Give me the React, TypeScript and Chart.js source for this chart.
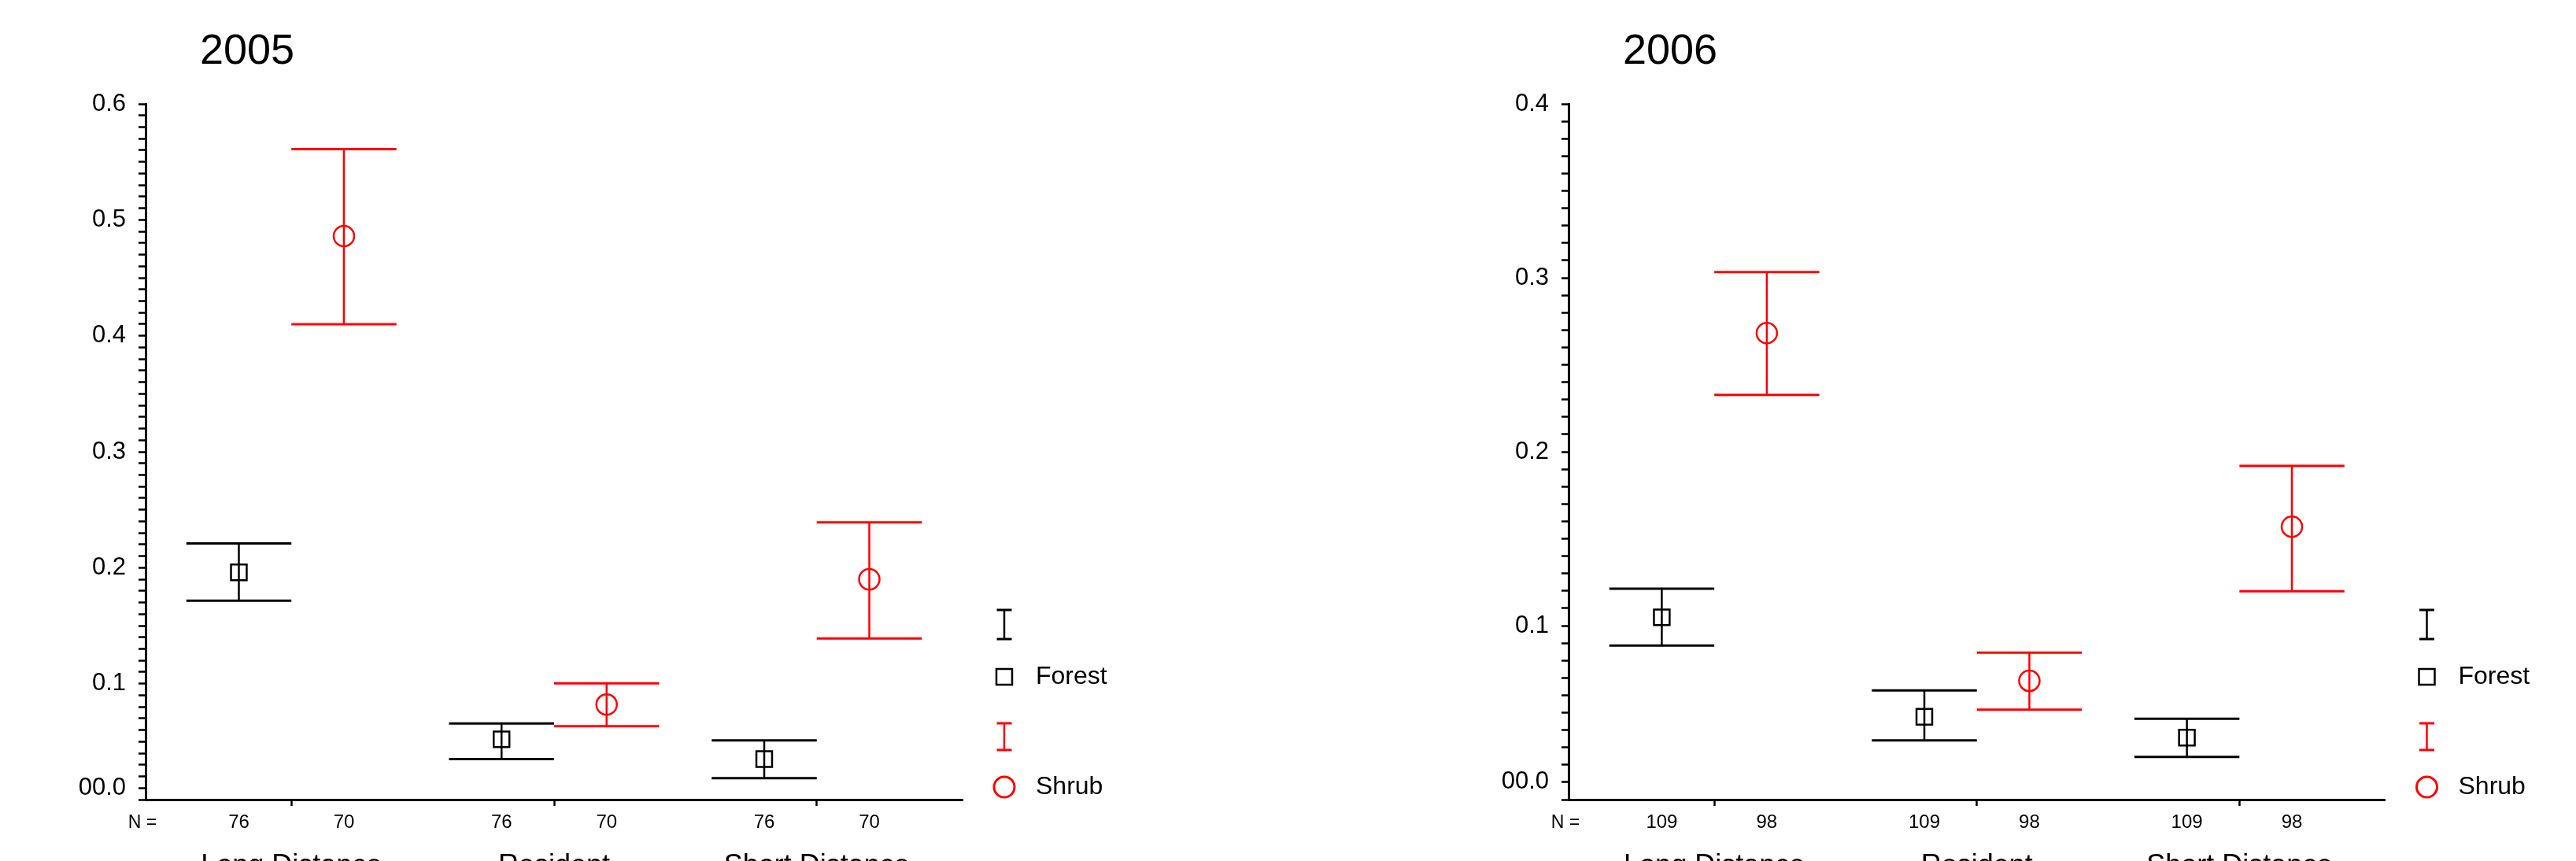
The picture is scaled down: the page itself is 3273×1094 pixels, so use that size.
import React, { useEffect, useRef } from 'react';
import { Chart, registerables } from 'chart.js';

Chart.register(...registerables);

// ---------- data ----------
const categories = ['Long Distance', 'Resident', 'Short Distance'];
const seriesNames = ['Forest', 'Shrub'];

const forestMean2005 = [0.196, 0.052, 0.035];
const forestLow2005 = [0.1715, 0.035, 0.0185];
const forestHigh2005 = [0.221, 0.0656, 0.051];
const shrubMean2005 = [0.486, 0.082, 0.19];
const shrubLow2005 = [0.41, 0.0633, 0.139];
const shrubHigh2005 = [0.561, 0.1003, 0.239];
const forestN2005 = ['76', '76', '76'];
const shrubN2005 = ['70', '70', '70'];
const yLabelValues2005 = [0.01, 0.1, 0.2, 0.3, 0.4, 0.5, 0.6];
const yLabels2005 = ['00.0', '0.1', '0.2', '0.3', '0.4', '0.5', '0.6'];

const forestMean2006 = [0.1048, 0.0476, 0.0356];
const forestLow2006 = [0.0886, 0.0341, 0.0246];
const forestHigh2006 = [0.1213, 0.0628, 0.0465];
const shrubMean2006 = [0.2682, 0.0683, 0.1569];
const shrubLow2006 = [0.2327, 0.0517, 0.1198];
const shrubHigh2006 = [0.3033, 0.0845, 0.1919];
const forestN2006 = ['109', '109', '109'];
const shrubN2006 = ['98', '98', '98'];
const yLabelValues2006 = [0.01, 0.1, 0.2, 0.3, 0.4];
const yLabels2006 = ['00.0', '0.1', '0.2', '0.3', '0.4'];

// ---------- style ----------
const FONT = "'Liberation Sans', Arial, Helvetica, sans-serif";
const BLACK = '#000000';
const RED = '#ff0000';
const GROUP_OFFSET = 0.2;
const CAP_HALF = 0.2;
const X_MIN = -0.555;
const X_MAX = 2.555;
const H = 1094;

type Panel = {
  title: string;
  yMax: number;
  fMean: number[]; fLow: number[]; fHigh: number[];
  sMean: number[]; sLow: number[]; sHigh: number[];
  fN: string[]; sN: string[];
  yLabelValues: number[]; yLabels: string[];
};

const panels: Panel[] = [
  {
    title: '2005', yMax: 0.6,
    fMean: forestMean2005, fLow: forestLow2005, fHigh: forestHigh2005,
    sMean: shrubMean2005, sLow: shrubLow2005, sHigh: shrubHigh2005,
    fN: forestN2005, sN: shrubN2005,
    yLabelValues: yLabelValues2005, yLabels: yLabels2005,
  },
  {
    title: '2006', yMax: 0.4,
    fMean: forestMean2006, fLow: forestLow2006, fHigh: forestHigh2006,
    sMean: shrubMean2006, sLow: shrubLow2006, sHigh: shrubHigh2006,
    fN: forestN2006, sN: shrubN2006,
    yLabelValues: yLabelValues2006, yLabels: yLabels2006,
  },
];

function stemSegments(lows: number[], highs: number[], offset: number) {
  const pts: any[] = [];
  lows.forEach((lo, i) => {
    const x = i + offset;
    pts.push({ x, y: lo }, { x, y: highs[i] }, { x, y: null });
  });
  return pts;
}

function capSegments(lows: number[], highs: number[], offset: number) {
  const pts: any[] = [];
  lows.forEach((lo, i) => {
    const x = i + offset;
    pts.push({ x: x - CAP_HALF, y: lo }, { x: x + CAP_HALF, y: lo }, { x, y: null });
    pts.push({ x: x - CAP_HALF, y: highs[i] }, { x: x + CAP_HALF, y: highs[i] }, { x, y: null });
  });
  return pts;
}

function iBeam(ctx: CanvasRenderingContext2D, x: number, y1: number, y2: number, color: string) {
  ctx.strokeStyle = color;
  ctx.lineWidth = 2.5;
  ctx.beginPath();
  ctx.moveTo(x, y1);
  ctx.lineTo(x, y2);
  ctx.stroke();
  ctx.lineWidth = 3;
  ctx.beginPath();
  ctx.moveTo(x - 9.5, y1);
  ctx.lineTo(x + 9.5, y1);
  ctx.moveTo(x - 9.5, y2);
  ctx.lineTo(x + 9.5, y2);
  ctx.stroke();
}

const decorPlugin = {
  id: 'panelDecor',
  afterDraw(chart: any, _args: any, opts: any) {
    const ctx: CanvasRenderingContext2D = chart.ctx;
    const a = chart.chartArea;
    ctx.save();
    ctx.fillStyle = BLACK;
    ctx.textBaseline = 'middle';
    // title
    ctx.font = `54px ${FONT}`;
    ctx.textAlign = 'left';
    ctx.fillText(opts.title, a.left + 69, 66);
    // N =
    ctx.font = `23px ${FONT}`;
    ctx.textAlign = 'center';
    ctx.fillText('N =', a.left - 4, a.bottom + 30);
    // legend
    const lx = a.right + 53;
    const B = a.bottom;
    iBeam(ctx, lx, B - 241, B - 204, BLACK);
    ctx.strokeStyle = BLACK;
    ctx.lineWidth = 2.5;
    ctx.strokeRect(lx - 10, B - 166, 20, 20);
    iBeam(ctx, lx, B - 97, B - 63, RED);
    ctx.strokeStyle = RED;
    ctx.beginPath();
    ctx.arc(lx, B - 16, 13, 0, Math.PI * 2);
    ctx.stroke();
    ctx.fillStyle = BLACK;
    ctx.font = `32px ${FONT}`;
    ctx.textAlign = 'left';
    ctx.fillText(seriesNames[0], a.right + 93, B - 156);
    ctx.fillText(seriesNames[1], a.right + 93, B - 16);
    ctx.restore();
  },
};

function buildConfig(p: Panel, padLeft: number, padRight: number): any {
  const xTickValues: number[] = [];
  const xTickLabels: string[] = [];
  categories.forEach((_, i) => {
    xTickValues.push(i - GROUP_OFFSET, i, i + GROUP_OFFSET);
    xTickLabels.push(p.fN[i], '', p.sN[i]);
  });
  const nMinor = Math.round(p.yMax * 100);
  const yTicks: number[] = [];
  for (let i = 0; i <= nMinor; i++) yTicks.push(i / 100);

  const lineDs = (data: any[], color: string, width: number) => ({
    type: 'scatter',
    data,
    showLine: true,
    spanGaps: false,
    borderColor: color,
    borderWidth: width,
    pointRadius: 0,
    pointHoverRadius: 0,
    fill: false,
    xAxisID: 'x',
    yAxisID: 'y',
  });

  return {
    type: 'scatter',
    data: {
      datasets: [
        {
          label: seriesNames[0],
          data: p.fMean.map((m, i) => ({ x: i - GROUP_OFFSET, y: m })),
          pointStyle: 'rect',
          pointRadius: 14.1,
          pointBorderWidth: 2.5,
          borderColor: BLACK,
          backgroundColor: 'rgba(0,0,0,0)',
          xAxisID: 'x', yAxisID: 'y',
        },
        {
          label: seriesNames[1],
          data: p.sMean.map((m, i) => ({ x: i + GROUP_OFFSET, y: m })),
          pointStyle: 'circle',
          pointRadius: 13,
          pointBorderWidth: 2.5,
          borderColor: RED,
          backgroundColor: 'rgba(0,0,0,0)',
          xAxisID: 'x', yAxisID: 'y',
        },
        lineDs(stemSegments(p.fLow, p.fHigh, -GROUP_OFFSET), BLACK, 2.5),
        lineDs(capSegments(p.fLow, p.fHigh, -GROUP_OFFSET), BLACK, 3),
        lineDs(stemSegments(p.sLow, p.sHigh, GROUP_OFFSET), RED, 2.5),
        lineDs(capSegments(p.sLow, p.sHigh, GROUP_OFFSET), RED, 3),
      ],
    },
    options: {
      animation: false,
      responsive: false,
      devicePixelRatio: 1,
      events: [],
      layout: { padding: { left: padLeft, right: padRight, top: 132, bottom: 0 } },
      plugins: {
        legend: { display: false },
        title: { display: false },
        tooltip: { enabled: false },
        panelDecor: { title: p.title },
      },
      scales: {
        x: {
          type: 'linear',
          position: 'bottom',
          weight: 0,
          min: X_MIN,
          max: X_MAX,
          afterBuildTicks: (scale: any) => {
            scale.ticks = xTickValues.map((v) => ({ value: v }));
          },
          afterFit: (scale: any) => {
            scale.height = 50;
          },
          ticks: {
            autoSkip: false,
            maxRotation: 0,
            minRotation: 0,
            padding: 7,
            color: BLACK,
            font: { family: FONT, size: 24 },
            callback: (_v: any, i: number) => xTickLabels[i],
          },
          grid: {
            drawOnChartArea: false,
            drawTicks: true,
            tickLength: 8,
            tickWidth: 2.5,
            tickColor: (c: any) =>
              c.tick && Number.isInteger(c.tick.value) ? BLACK : 'rgba(0,0,0,0)',
          },
          border: { display: true, color: BLACK, width: 3 },
        },
        x2: {
          type: 'linear',
          position: 'bottom',
          weight: 1,
          min: X_MIN,
          max: X_MAX,
          afterBuildTicks: (scale: any) => {
            scale.ticks = categories.map((_, i) => ({ value: i }));
          },
          afterFit: (scale: any) => {
            scale.height = 28;
          },
          ticks: {
            autoSkip: false,
            maxRotation: 0,
            minRotation: 0,
            padding: 13,
            color: BLACK,
            font: { family: FONT, size: 36 },
            callback: (_v: any, i: number) => categories[i],
          },
          grid: { display: false, drawTicks: false },
          border: { display: false },
        },
        y: {
          type: 'linear',
          position: 'left',
          min: 0,
          max: p.yMax,
          afterBuildTicks: (scale: any) => {
            scale.ticks = yTicks.map((v) => ({ value: v }));
          },
          afterFit: (scale: any) => {
            scale.width = 100;
          },
          ticks: {
            autoSkip: false,
            padding: 16,
            color: BLACK,
            font: { family: FONT, size: 31 },
            callback: (v: any) => {
              const k = p.yLabelValues.findIndex((lv) => Math.abs(lv - Number(v)) < 1e-6);
              return k >= 0 ? p.yLabels[k] : '';
            },
          },
          grid: {
            drawOnChartArea: false,
            drawTicks: true,
            tickLength: 9,
            tickWidth: 2.5,
            tickColor: BLACK,
          },
          border: { display: true, color: BLACK, width: 3 },
        },
      },
    },
    plugins: [decorPlugin],
  };
}

function PanelChart(props: { panel: Panel; left: number; width: number; padLeft: number; padRight: number }) {
  const ref = useRef<HTMLCanvasElement | null>(null);
  useEffect(() => {
    if (!ref.current) return;
    const chart = new Chart(ref.current, buildConfig(props.panel, props.padLeft, props.padRight));
    return () => chart.destroy();
  }, []);
  return (
    <canvas
      ref={ref}
      width={props.width}
      height={H}
      style={{ position: 'absolute', left: props.left, top: 0, width: props.width, height: H }}
    />
  );
}

export default function App() {
  return (
    <div style={{ position: 'absolute', left: 0, top: 0, width: 3273, height: H, background: '#ffffff', overflow: 'hidden' }}>
      <PanelChart panel={panels[0]} left={0} width={1636} padLeft={85} padRight={413} />
      <PanelChart panel={panels[1]} left={1636} width={1637} padLeft={257} padRight={242.5} />
    </div>
  );
}
